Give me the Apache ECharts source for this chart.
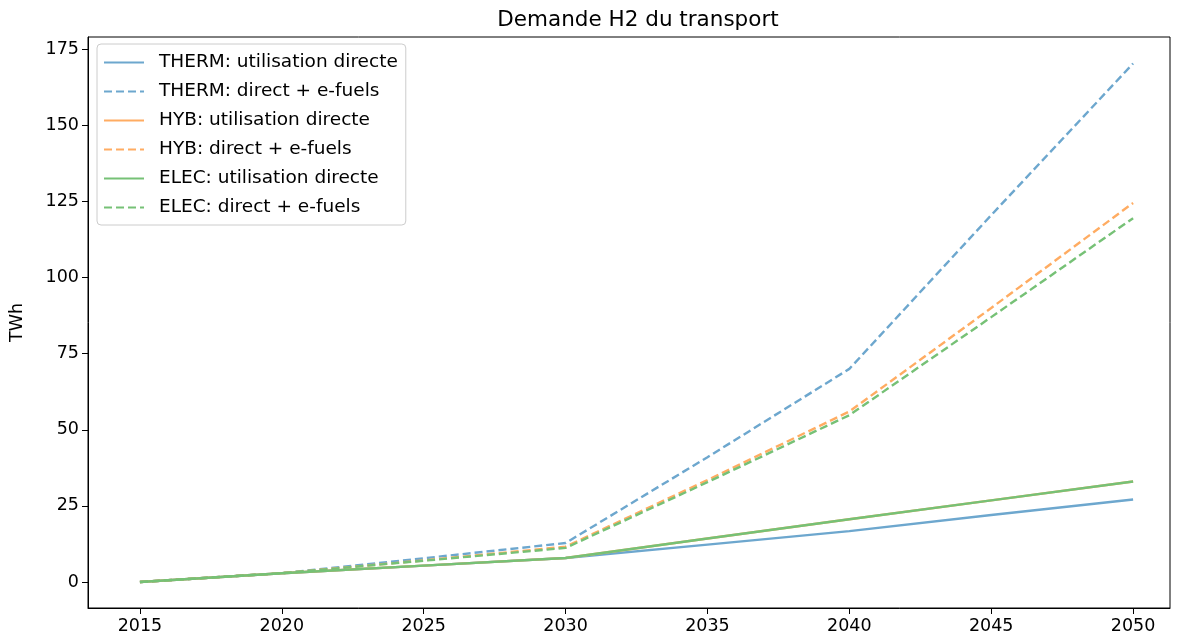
<!DOCTYPE html>
<html>
<head>
<meta charset="utf-8">
<script src="https://cdn.jsdelivr.net/npm/echarts@6/dist/echarts.min.js"></script>
<style>
html,body{margin:0;padding:0;background:#fff;}
#chart{width:1178px;height:639px;}
</style>
</head>
<body>
<div id="chart"></div>
<script>
const years = [2015, 2020, 2025, 2030, 2035, 2040, 2045, 2050];
const thermDirect = [0, 2.9, 5.4, 7.9, 12.3, 16.7, 22.0, 27.1];
const thermEfuels = [0, 2.9, 7.8, 12.8, 41.0, 70.0, 120.5, 170.3];
const hybDirect   = [0, 2.9, 5.4, 7.9, 14.3, 20.6, 26.8, 33.0];
const hybEfuels   = [0, 2.9, 7.1, 11.6, 33.5, 56.0, 90.0, 124.5];
const elecDirect  = [0, 2.9, 5.4, 7.9, 14.3, 20.6, 26.8, 33.0];
const elecEfuels  = [0, 2.9, 7.0, 11.2, 32.8, 54.8, 87.0, 119.5];
const xTicks = [2015, 2020, 2025, 2030, 2035, 2040, 2045, 2050];
const yTicks = [0, 25, 50, 75, 100, 125, 150, 175];

const names = [
  'THERM: utilisation directe', 'THERM: direct + e-fuels',
  'HYB: utilisation directe', 'HYB: direct + e-fuels',
  'ELEC: utilisation directe', 'ELEC: direct + e-fuels'
];
const values = [thermDirect, thermEfuels, hybDirect, hybEfuels, elecDirect, elecEfuels];
const colors = ['#6da7ce', '#6da7ce', '#ffac62', '#ffac62', '#76c176', '#76c176'];

const FONT = 'DejaVu Sans';
const series = names.map((n, i) => ({
  name: n,
  type: 'line',
  data: years.map((y, k) => [y, values[i][k]]),
  symbol: 'none',
  showSymbol: false,
  smooth: false,
  color: colors[i],
  lineStyle: {
    color: colors[i],
    width: 2.4,
    type: (i % 2 === 1) ? [8, 4] : 'solid'
  },
  emphasis: { disabled: true },
  z: 2 + i
}));

const chart = echarts.init(document.getElementById('chart'), null, { renderer: 'canvas' });
chart.setOption({
  animation: false,
  backgroundColor: '#ffffff',
  title: {
    text: 'Demande H2 du transport',
    left: 633, textAlign: 'center',
    top: 4,
    textStyle: { fontFamily: FONT, fontSize: 21.5, fontWeight: 'normal', color: '#000' }
  },
  grid: { left: 88, right: 8, top: 37, bottom: 31, show: true, borderColor: '#000', borderWidth: 1, backgroundColor: 'transparent' },
  legend: {
    left: 97, top: 44, orient: 'vertical',
    backgroundColor: 'rgba(255,255,255,0.85)',
    borderColor: '#cccccc', borderWidth: 1, borderRadius: 4,
    padding: [9, 8, 8, 6],
    itemWidth: 40, itemHeight: 18, itemGap: 10,
    itemStyle: { opacity: 0 },
    textStyle: { fontFamily: FONT, fontSize: 18.5, color: '#000', padding: [0, 0, 0, 10] },
    data: names
  },
  xAxis: {
    type: 'value',
    min: 2013.17, max: 2051.3,
    axisLine: { show: true, onZero: false, lineStyle: { color: '#000', width: 1 } },
    splitLine: { show: false },
    axisTick: { show: true, length: 6, lineStyle: { color: '#000' }, customValues: xTicks },
    axisLabel: { customValues: xTicks, fontFamily: FONT, fontSize: 17.5, color: '#000', margin: 9, formatter: v => String(v) }
  },
  yAxis: {
    type: 'value',
    min: -8.53, max: 179.0,
    name: 'TWh', nameLocation: 'middle', nameGap: 62, nameRotate: 90,
    nameTextStyle: { fontFamily: FONT, fontSize: 17.5, color: '#000' },
    axisLine: { show: true, onZero: false, lineStyle: { color: '#000', width: 1 } },
    splitLine: { show: false },
    axisTick: { show: true, length: 6, lineStyle: { color: '#000' }, customValues: yTicks },
    axisLabel: { customValues: yTicks, fontFamily: FONT, fontSize: 17.5, color: '#000', margin: 9, formatter: v => String(v) }
  },
  series: series
});
</script>
</body>
</html>
